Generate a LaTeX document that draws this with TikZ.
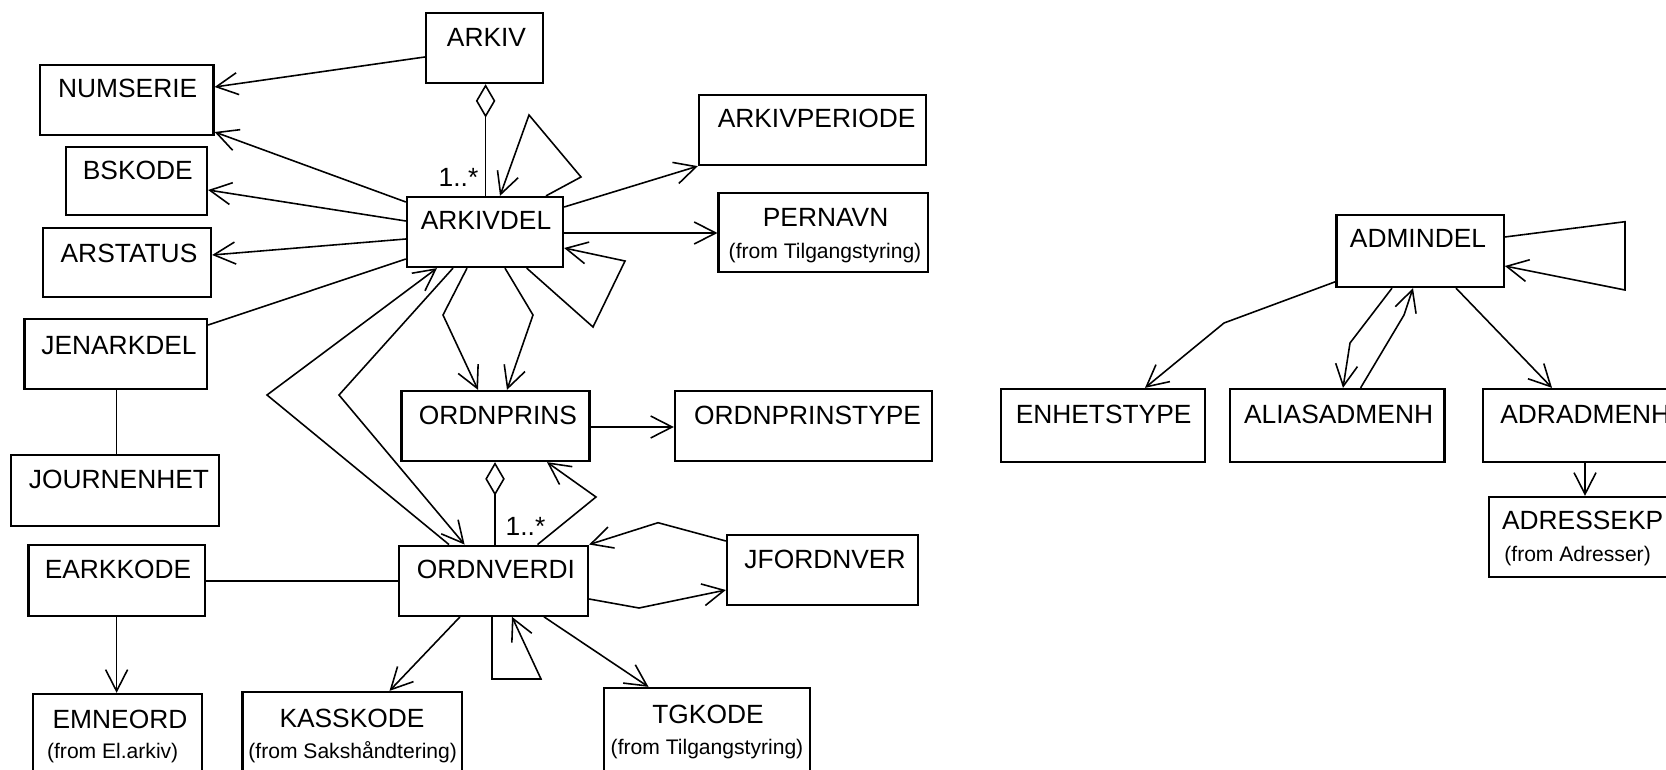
\documentclass[tikz,border=0pt]{standalone}
\usepackage{fontspec}
\setmainfont{Liberation Sans}
\usetikzlibrary{arrows.meta,fit,calc}
\tikzset{
  cls/.style={draw, line width=1.3pt, inner sep=0pt},
  nm/.style={font=\fontsize{15}{18}\selectfont, inner sep=0pt, anchor=base},
  sm/.style={font=\fontsize{12}{14}\selectfont, inner sep=0pt, anchor=base},
  conn/.style={line width=0.9pt, line join=miter},
  arr/.style={conn, -{Straight Barb[length=0.43cm, width=0.44cm]}},
  agg/.style={conn, {Diamond[open, length=0.67cm, width=0.39cm]}-},
}
\begin{document}
\begin{tikzpicture}[x=0.02cm, y=-0.02cm]
\path[use as bounding box, clip] (0,0) rectangle (1666,770);
% boxes
\node[cls, fit={(426,13) (543,83)}] (arkiv) {};
\node[cls, fit={(40,65) (213.5,135)}] (numserie) {};
\node[cls, fit={(66,147) (207,215)}] (bskode) {};
\node[cls, fit={(43,228) (211,297)}] (arstatus) {};
\node[cls, fit={(407,197) (563,267)}] (arkivdel) {};
\node[cls, fit={(699,95) (926,165)}] (arkivperiode) {};
\node[cls, fit={(718.6,193) (928,272)}] (pernavn) {};
\node[cls, fit={(24.5,319) (207,389)}] (jenarkdel) {};
\node[cls, fit={(10.7,455) (218.7,526)}] (journenhet) {};
\node[cls, fit={(401.4,391) (589.6,461)}] (ordnprins) {};
\node[cls, fit={(675,391) (932,461)}] (ordnprinstype) {};
\node[cls, fit={(28.5,545) (204.8,616)}] (earkkode) {};
\node[cls, fit={(399,545.7) (588,615.7)}] (ordnverdi) {};
\node[cls, fit={(727,535) (918,605)}] (jfordnver) {};
\node[cls, fit={(33,694) (202,778)}] (emneord) {};
\node[cls, fit={(242.5,692) (462,778)}] (kasskode) {};
\node[cls, fit={(603.7,688) (810,778)}] (tgkode) {};
\node[cls, fit={(1336.6,215) (1503.7,287)}] (admindel) {};
\node[cls, fit={(1001,389) (1205,462)}] (enhetstype) {};
\node[cls, fit={(1230,389) (1444.6,462)}] (aliasadmenh) {};
\node[cls, fit={(1483,389) (1690,462)}] (adradmenh) {};
\node[cls, fit={(1489,497) (1690,577)}] (adressekp) {};
% texts
\node[nm] (t1) at (486.5,47) {ARKIV};
\node[nm] (t2) at (127.7,98) {NUMSERIE};
\node[nm] (t3) at (137.8,180) {BSKODE};
\node[nm] (t4) at (129,262) {ARSTATUS};
\node[nm] (t5) at (486,230) {ARKIVDEL};
\node[nm] (t6) at (816.6,128) {ARKIVPERIODE};
\node[nm] (t7) at (825.6,227) {PERNAVN};
\node[sm] (s7) at (825,258) {(from Tilgangstyring)};
\node[nm] (t8) at (119,354) {JENARKDEL};
\node[nm] (t9) at (119,488) {JOURNENHET};
\node[nm] (t10) at (498,424) {ORDNPRINS};
\node[nm] (t11) at (807.5,424) {ORDNPRINSTYPE};
\node[nm] (t12) at (118,578) {EARKKODE};
\node[nm] (t13) at (496,578) {ORDNVERDI};
\node[nm] (t14) at (825,568) {JFORDNVER};
\node[nm] (t15) at (120,728) {EMNEORD};
\node[sm] (s15) at (112.7,758) {(from El.arkiv)};
\node[nm] (t16) at (352,727) {KASSKODE};
\node[sm] (s16) at (352.7,758) {(from Sakshåndtering)};
\node[nm] (t17) at (708,723) {TGKODE};
\node[sm] (s17) at (707,754) {(from Tilgangstyring)};
\node[nm] (t18) at (1418,248) {ADMINDEL};
\node[nm] (t19) at (1103.6,423) {ENHETSTYPE};
\node[nm] (t20) at (1338.6,423) {ALIASADMENH};
\node[nm, anchor=base west] (t21) at (1500,423) {ADRADMENH};
\node[nm, anchor=base west] (t22) at (1501.7,529) {ADRESSEKP};
\node[sm, anchor=base west] (s22) at (1504,561) {(from Adresser)};
\node[nm] (m1) at (458.5,187) {1..*};
\node[nm] (m2) at (525.5,535) {1..*};
% connectors, left part
\draw[arr] (arkiv.west |- 0,57) -- (numserie.east |- 0,87);
\draw[arr] (arkivdel.west |- 0,202) -- (numserie.east |- 0,132);
\draw[arr] (arkivdel.west |- 0,221) -- (bskode.east |- 0,190);
\draw[arr] (arkivdel.west |- 0,239) -- (arstatus.east |- 0,255);
\draw[conn] (arkivdel.west |- 0,259) -- (jenarkdel.east |- 0,325);
\draw[agg] (arkiv.south -| 485.6,0) -- (arkivdel.north -| 485.6,0);
\draw[arr] (arkivdel.north -| 546,0) -- (581,177) -- (529,115) -- (arkivdel.north -| 500,0);
\draw[arr] (arkivdel.east |- 0,207) -- (arkivperiode.south west);
\draw[arr] (arkivdel.east |- 0,233) -- (pernavn.west |- 0,233);
\draw[arr] (arkivdel.south -| 526.7,0) -- (593,327) -- (625,261) -- (arkivdel.east |- 0,248);
\draw[arr] (arkivdel.south -| 467,0) -- (443,315) -- (ordnprins.north -| 478,0);
\draw[arr] (arkivdel.south -| 505,0) -- (533,315) -- (ordnprins.north -| 507,0);
\draw[arr] (ordnverdi.north -| 449,0) -- (267,395) -- (arkivdel.south -| 437,0);
\draw[arr] (arkivdel.south -| 453,0) -- (339,395) -- (ordnverdi.north -| 464.6,0);
\draw[arr] (ordnprins.east |- 0,427) -- (ordnprinstype.west |- 0,427);
\draw[agg] (ordnprins.south -| 495,0) -- (ordnverdi.north -| 495,0);
\draw[arr] (ordnverdi.north -| 537.5,0) -- (596,497) -- (ordnprins.south -| 547,0);
\draw[conn] (jenarkdel.south -| 116.6,0) -- (journenhet.north -| 116.6,0);
\draw[conn] (earkkode.east |- 0,581) -- (ordnverdi.west |- 0,581);
\draw[arr] (earkkode.south -| 116.6,0) -- (emneord.north -| 116.6,0);
\draw[arr] (ordnverdi.south -| 460,0) -- (kasskode.north -| 389.5,0);
\draw[arr] (ordnverdi.south -| 492,0) -- (492,679) -- (541,679) -- (ordnverdi.south -| 512,0);
\draw[arr] (ordnverdi.south -| 544,0) -- (tgkode.north -| 648.5,0);
\draw[arr] (jfordnver.west |- 0,541) -- (658,522.7) -- (ordnverdi.north east);
\draw[arr] (ordnverdi.east |- 0,599) -- (639,608) -- (jfordnver.west |- 0,590);
% right part
\draw[arr] (admindel.west |- 0,281.7) -- (1224,323) -- (enhetstype.north -| 1145,0);
\draw[arr] (admindel.south -| 1392,0) -- (1350,343) -- (aliasadmenh.north -| 1343,0);
\draw[arr] (aliasadmenh.north -| 1360.6,0) -- (1404,315) -- (admindel.south -| 1413,0);
\draw[arr] (admindel.south -| 1456,0) -- (adradmenh.north -| 1552,0);
\draw[arr] (adradmenh.south -| 1585,0) -- (adressekp.north -| 1585,0);
\draw[arr] (admindel.east |- 0,237) -- (1625,221.7) -- (1625,290) -- (admindel.east |- 0,266);
\end{tikzpicture}
\end{document}
